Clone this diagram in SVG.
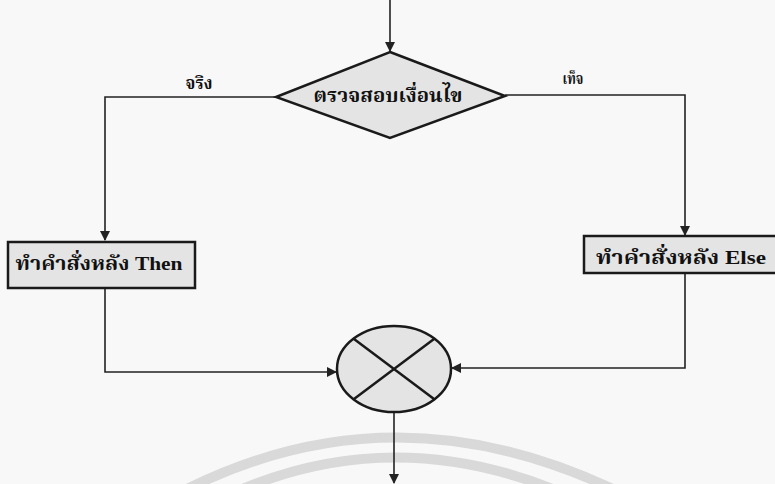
<svg xmlns="http://www.w3.org/2000/svg" width="775" height="484" viewBox="0 0 775 484">
<style>
.bg{fill:#f8f8f8}
.wm{fill:none;stroke:#d9d9d9;stroke-width:10}
.shape{fill:#e4e4e4;stroke:#1a1a1a;stroke-width:2.5}
.line{fill:none;stroke:#222;stroke-width:1.6}
.lbl{font-family:"Liberation Serif","Noto Serif Thai","Noto Sans Thai","Noto Sans","DejaVu Sans",serif;font-weight:bold;fill:#111;text-anchor:middle}
</style>
<defs>
<marker id="arr" markerWidth="10" markerHeight="10" refX="9" refY="5" orient="auto" markerUnits="userSpaceOnUse">
<path d="M0,0 L10,5 L0,10 z" fill="#222"/>
</marker>
</defs>
<rect class="bg" x="0" y="0" width="775" height="484"/>
<g id="watermark">
<path class="wm" d="M185,490 Q394,385 615,490"/>
<path class="wm" d="M240,490 Q394,425 555,490"/>
</g>
<g id="connectors">
<path class="line" d="M390,0 V51" marker-end="url(#arr)"/>
<path class="line" d="M276,97 H105 V240" marker-end="url(#arr)"/>
<path class="line" d="M505,95 H685 V235" marker-end="url(#arr)"/>
<path class="line" d="M105,288 V372 H336" marker-end="url(#arr)"/>
<path class="line" d="M685,273 V368 H452" marker-end="url(#arr)"/>
<path class="line" d="M394,413 V483" marker-end="url(#arr)"/>
<text class="lbl" x="199" y="89" font-size="17" textLength="27" lengthAdjust="spacingAndGlyphs">จริง</text>
<text class="lbl" x="573" y="84" font-size="16" textLength="21" lengthAdjust="spacingAndGlyphs">เท็จ</text>
</g>
<g id="decision">
<polygon class="shape" points="390,52 505,96 390,138 276,97"/>
<text class="lbl" x="388" y="102" font-size="19" textLength="149" lengthAdjust="spacingAndGlyphs">ตรวจสอบเงื่อนไข</text>
</g>
<g id="then">
<rect class="shape" x="8" y="242" width="187" height="46"/>
<text class="lbl" x="99" y="270" font-size="19" textLength="167" lengthAdjust="spacingAndGlyphs">ทำคำสั่งหลัง Then</text>
</g>
<g id="else">
<rect class="shape" x="584" y="236" width="200" height="37"/>
<text class="lbl" x="681" y="264" font-size="19" textLength="170" lengthAdjust="spacingAndGlyphs">ทำคำสั่งหลัง Else</text>
</g>
<g id="merge">
<ellipse class="shape" cx="394" cy="369" rx="57" ry="43"/>
<path class="line" d="M354,339 L434,399 M434,339 L354,399" style="stroke:#1a1a1a;stroke-width:2.5"/>
</g>
</svg>
